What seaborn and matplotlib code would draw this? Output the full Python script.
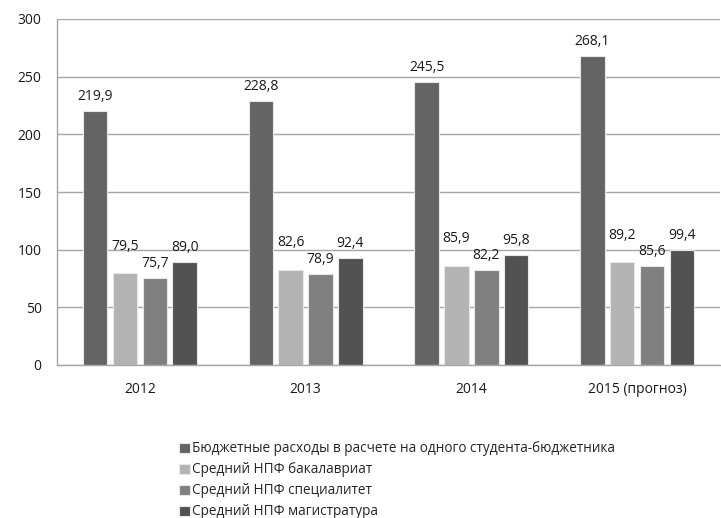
import matplotlib
matplotlib.use('Agg')
import matplotlib.pyplot as plt
import seaborn as sns
import pandas as pd

# data
years = ['2012', '2013', '2014', '2015 (прогноз)']
budget = [219.9, 228.8, 245.5, 268.1]
bachelor = [79.5, 82.6, 85.9, 89.2]
specialist = [75.7, 78.9, 82.2, 85.6]
master = [89.0, 92.4, 95.8, 99.4]

series = ['Бюджетные расходы в расчете на одного студента-бюджетника',
          'Средний НПФ бакалавриат',
          'Средний НПФ специалитет',
          'Средний НПФ магистратура']
colors = ['#646464', '#b3b3b3', '#808080', '#525252']

rows = []
for name, vals in zip(series, [budget, bachelor, specialist, master]):
    for y, v in zip(years, vals):
        rows.append({'year': y, 'series': name, 'value': v})
df = pd.DataFrame(rows)

sns.set_style('white')
plt.rcParams['font.family'] = ['Open Sans', 'DejaVu Sans']
plt.rcParams['font.size'] = 10

fig = plt.figure(figsize=(7.21, 5.18), dpi=100)
ax = fig.add_axes([57 / 721, 153 / 518, 663 / 721, 346 / 518])

sns.barplot(data=df, x='year', y='value', hue='series', palette=colors,
            width=0.72, gap=0.18, edgecolor='#e8e8e8', linewidth=0.8,
            ax=ax, legend=True)

# labels of the "бакалавриат" series sit higher in the original so they don't collide
pads = [5, 14, 5, 5]
for cont, pad in zip(ax.containers, pads):
    ax.bar_label(cont, labels=[f'{b.get_height():.1f}'.replace('.', ',') for b in cont],
                 padding=pad, fontsize=10, color='#1a1a1a')

ax.set_ylim(0, 300)
ax.set_yticks(range(0, 301, 50))
ax.set_xlim(-0.5, 3.5)
ax.yaxis.grid(True, color='#a6a6a6', linewidth=1)
ax.set_axisbelow(True)
ax.set_xlabel('')
ax.set_ylabel('')
ax.tick_params(axis='both', length=0, labelsize=10, colors='#1a1a1a')
ax.tick_params(axis='y', pad=11)
ax.tick_params(axis='x', pad=12)
for s in ['top', 'right']:
    ax.spines[s].set_visible(False)
for s in ['left', 'bottom']:
    ax.spines[s].set_color('#a6a6a6')
    ax.spines[s].set_linewidth(1)

handles, labels = ax.get_legend_handles_labels()
ax.legend_.remove()
fig.legend(handles, labels, loc='upper left', bbox_to_anchor=(174 / 721, 1 - 436 / 518),
           frameon=False, handlelength=0.75, handleheight=0.75, handletextpad=0.2,
           labelspacing=0.44, fontsize=9.8, borderaxespad=0)

fig.savefig('out.png', dpi=100)
